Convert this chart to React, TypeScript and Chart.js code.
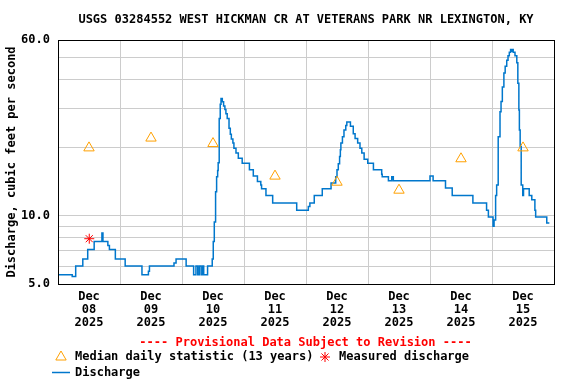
import React, { useEffect, useRef } from 'react';
import { Chart, registerables } from 'chart.js';

Chart.register(...registerables);

const TITLE = 'USGS 03284552 WEST HICKMAN CR AT VETERANS PARK NR LEXINGTON, KY';
const Y_TITLE = 'Discharge, cubic feet per second';
const PROVISIONAL = '---- Provisional Data Subject to Revision ----';
const LEGEND_MEDIAN = 'Median daily statistic (13 years)';
const LEGEND_MEASURED = 'Measured discharge';
const LEGEND_DISCHARGE = 'Discharge';
const MONTH = 'Dec';
const YEAR = '2025';
const DAY_LABELS = ['08', '09', '10', '11', '12', '13', '14', '15'];
const Y_TICKS = [5, 6, 7, 8, 9, 10, 20, 30, 40, 50, 60];
const Y_LABELED = [5, 10, 60];

// hours since Dec 08 00:00
const MEDIAN_HOURS = [12, 36, 60, 84, 108, 132, 156, 180];
const MEDIAN_VALUES = [20.0, 22.1, 20.9, 15.0, 14.1, 13.0, 17.9, 20.0];

const MEASURED_HOURS = [12.1];
const MEASURED_VALUES = [7.93];

const DISCHARGE_HOURS = [
  0, 5.5, 6.85, 9.6, 11.5, 14.0, 17.0, 17.4, 19.3, 19.9, 22.2, 26.0, 32.5, 35.0, 35.4,
  44.9, 45.7, 49.6, 52.5, 53.4, 54.1, 54.7, 55.4, 56.0, 56.4, 57.9, 59.7, 60.1, 60.5,
  61.0, 61.4, 61.8, 62.0, 62.4, 62.8, 63.1, 63.6, 64.1, 64.6, 65.0, 65.5, 66.2, 66.7,
  67.1, 67.7, 68.1, 68.9, 69.8, 71.3, 74.1, 75.6, 77.2, 78.5, 78.8, 80.5, 83.1, 92.4,
  96.9, 97.5, 99.2, 102.3, 105.7, 107.5, 108.0, 108.5, 109.0, 109.3, 109.5, 110.1,
  110.7, 111.4, 111.8, 113.2, 114.3, 115.0, 116.0, 116.9, 117.6, 118.5, 119.9, 122.1,
  125.3, 125.5, 127.9, 129.2, 129.8, 144.0, 145.2, 150.0, 152.6, 160.6, 165.9, 166.6,
  168.4, 168.8, 169.4, 169.8, 170.4, 171.1, 171.5, 172.0, 172.6, 173.1, 173.7, 174.2,
  174.7, 175.2, 175.7, 175.9, 176.2, 176.9, 177.6, 178.0, 178.4, 178.6, 178.9, 179.3,
  179.9, 180.2, 182.4, 183.4, 184.6, 184.9, 189.2, 190.2,
];
const DISCHARGE_VALUES = [
  5.5, 5.4, 6.0, 6.45, 7.1, 7.7, 8.4, 7.7, 7.4, 7.1, 6.45, 6.0, 5.5, 5.7, 6.0,
  6.2, 6.45, 6.0, 5.5, 6.0, 5.5, 6.0, 5.5, 6.0, 5.5, 6.0, 6.45, 7.7, 9.4,
  12.8, 14.9, 15.9, 17.2, 27.0, 31.2, 33.1, 32.0, 30.6, 29.6, 28.3, 27.0, 24.4, 23.0,
  21.9, 21.0, 19.9, 19.0, 18.0, 17.1, 16.0, 15.0, 14.2, 13.7, 13.2, 12.3, 11.4, 10.6,
  11.0, 11.4, 12.3, 13.2, 14.0, 14.9, 16.0, 17.0, 18.3, 19.6, 21.0, 22.4,
  24.0, 25.1, 26.0, 24.9, 23.1, 22.0, 21.0, 19.9, 19.0, 17.8, 17.1, 16.0,
  15.3, 14.9, 14.3, 14.9, 14.3, 15.0, 14.3, 13.3, 12.3, 11.4, 10.6, 9.9,
  9.0, 9.6, 12.3, 13.7, 22.4, 28.9, 32.1, 37.2, 42.9, 45.9, 48.8, 51.1,
  52.9, 54.4, 53.5, 54.4, 52.9, 51.1, 47.6, 38.6, 29.4, 24.0, 20.3, 13.7,
  12.3, 13.2, 12.3, 11.8, 10.6, 9.9, 9.3, 9.3,
];

const X_MIN = 0;
const X_MAX = 192;

const FAMILY = '"DejaVu Sans Mono", "Liberation Mono", monospace';
const FONT = `bold 12px ${FAMILY}`;
const GRID = '#cccccc';
const BLUE = '#0077cc';
const ORANGE = '#ffa000';
const RED = '#ff0000';

function drawTriangle(ctx: CanvasRenderingContext2D, x: number, y: number, r: number) {
  ctx.beginPath();
  ctx.moveTo(x, y - r);
  ctx.lineTo(x + r * Math.sin((2 * Math.PI) / 3), y - r * Math.cos((2 * Math.PI) / 3));
  ctx.lineTo(x + r * Math.sin((4 * Math.PI) / 3), y - r * Math.cos((4 * Math.PI) / 3));
  ctx.closePath();
  ctx.stroke();
}

function drawStar(ctx: CanvasRenderingContext2D, x: number, y: number, r: number) {
  ctx.beginPath();
  for (let i = 0; i < 4; i++) {
    const a = (i * Math.PI) / 4;
    ctx.moveTo(x - Math.sin(a) * r, y - Math.cos(a) * r);
    ctx.lineTo(x + Math.sin(a) * r, y + Math.cos(a) * r);
  }
  ctx.stroke();
}

const decorPlugin = {
  id: 'decor',
  afterDraw(chart: any) {
    const { ctx, chartArea: a } = chart;
    ctx.save();
    ctx.strokeStyle = '#000';
    ctx.lineWidth = 1;
    ctx.strokeRect(a.left + 0.5, a.top + 0.5, a.right - a.left, a.bottom - a.top);

    ctx.font = FONT;
    ctx.textBaseline = 'middle';
    ctx.fillStyle = RED;
    ctx.textAlign = 'center';
    ctx.fillText(PROVISIONAL, 305.5, 343);

    ctx.textAlign = 'left';
    ctx.fillStyle = '#000';
    ctx.fillText(LEGEND_MEDIAN, 75, 357);
    ctx.fillText(LEGEND_MEASURED, 339, 357);
    ctx.fillText(LEGEND_DISCHARGE, 75, 373);

    ctx.strokeStyle = ORANGE;
    ctx.lineWidth = 1;
    drawTriangle(ctx, 61, 357, 6);
    ctx.strokeStyle = RED;
    drawStar(ctx, 325, 357, 5);
    ctx.strokeStyle = BLUE;
    ctx.lineWidth = 1.5;
    ctx.beginPath();
    ctx.moveTo(52, 372.5);
    ctx.lineTo(70, 372.5);
    ctx.stroke();
    ctx.restore();
  },
};

export default function App() {
  const ref = useRef<HTMLCanvasElement>(null);
  useEffect(() => {
    document.body.style.margin = '0';
    const canvas = ref.current;
    if (!canvas) return;
    const discharge = DISCHARGE_HOURS.map((h, i) => ({ x: h, y: DISCHARGE_VALUES[i] }));
    const median = MEDIAN_HOURS.map((h, i) => ({ x: h, y: MEDIAN_VALUES[i] }));
    const measured = MEASURED_HOURS.map((h, i) => ({ x: h, y: MEASURED_VALUES[i] }));
    const chart = new Chart(canvas, {
      type: 'line',
      data: {
        datasets: [
          {
            label: LEGEND_MEDIAN,
            data: median,
            showLine: false,
            pointStyle: 'triangle',
            pointRadius: 6,
            pointBorderColor: ORANGE,
            pointBackgroundColor: 'rgba(0,0,0,0)',
            pointBorderWidth: 1,
          },
          {
            label: LEGEND_MEASURED,
            data: measured,
            showLine: false,
            pointStyle: 'star',
            pointRadius: 5,
            pointBorderColor: RED,
            pointBackgroundColor: RED,
            pointBorderWidth: 1,
          },
          {
            label: LEGEND_DISCHARGE,
            data: discharge,
            borderColor: BLUE,
            borderWidth: 1.5,
            pointRadius: 0,
            stepped: true,
            fill: false,
          },
        ],
      },
      options: {
        animation: false,
        responsive: false,
        devicePixelRatio: 1,
        events: [],
        layout: { padding: { left: 0, right: 22, top: 0, bottom: 0 } },
        plugins: {
          legend: { display: false },
          tooltip: { enabled: false },
          title: {
            display: true,
            text: TITLE,
            fullSize: false,
            color: '#000',
            font: { family: FAMILY, size: 12, weight: 'bold', lineHeight: 1.2 },
            padding: { top: 13, bottom: 12.6 },
          },
        },
        scales: {
          x: {
            type: 'linear',
            min: X_MIN,
            max: X_MAX,
            border: { display: false },
            afterBuildTicks: (scale: any) => {
              const t = [];
              for (let v = X_MIN; v <= X_MAX; v += 12) t.push({ value: v });
              scale.ticks = t;
            },
            afterFit: (scale: any) => {
              scale.height = 100;
            },
            grid: {
              drawTicks: false,
              lineWidth: 1,
              color: (c: any) => {
                const v = c.tick ? c.tick.value : -1;
                return v % 24 === 0 && v > X_MIN && v < X_MAX ? GRID : 'rgba(0,0,0,0)';
              },
            },
            ticks: {
              autoSkip: false,
              maxRotation: 0,
              minRotation: 0,
              padding: 7,
              color: '#000',
              font: { family: FAMILY, size: 12, weight: 'bold', lineHeight: 1.06 },
              callback: (v: any) => {
                const n = Number(v);
                if (n % 24 !== 12) return '';
                const i = (n - 12) / 24;
                return [MONTH, DAY_LABELS[i], YEAR];
              },
            },
          },
          y: {
            type: 'logarithmic',
            min: 5,
            max: 60,
            border: { display: false },
            afterBuildTicks: (scale: any) => {
              scale.ticks = Y_TICKS.map((v) => ({ value: v }));
            },
            afterFit: (scale: any) => {
              scale.width = 58;
            },
            grid: {
              drawTicks: false,
              lineWidth: 1,
              color: (c: any) => {
                const v = c.tick ? c.tick.value : -1;
                return v > 5 && v < 60 ? GRID : 'rgba(0,0,0,0)';
              },
            },
            ticks: {
              autoSkip: false,
              padding: 8,
              color: '#000',
              font: { family: FAMILY, size: 12, weight: 'bold' },
              callback: (v: any) => (Y_LABELED.includes(Number(v)) ? Number(v).toFixed(1) : ''),
            },
            title: {
              display: true,
              text: Y_TITLE,
              color: '#000',
              font: { family: FAMILY, size: 12, weight: 'bold', lineHeight: 1.2 },
              padding: { top: 4.8, bottom: 0 },
            },
          },
        },
      },
      plugins: [decorPlugin],
    } as any);
    return () => chart.destroy();
  }, []);
  return (
    <div style={{ width: 576, height: 384 }}>
      <canvas ref={ref} width={576} height={384} style={{ display: 'block' }} />
    </div>
  );
}
